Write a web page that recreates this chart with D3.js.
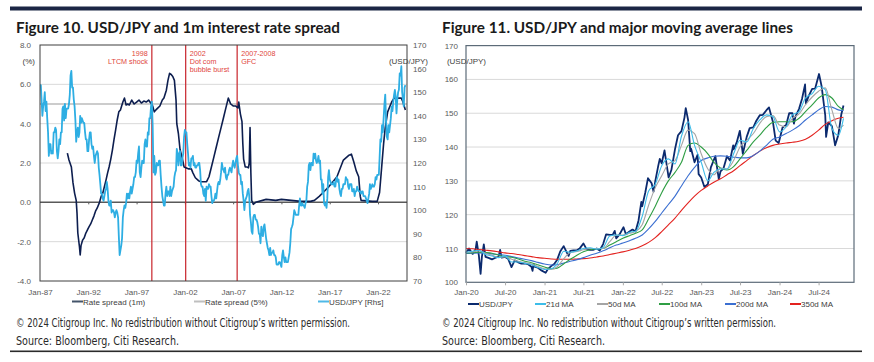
<!DOCTYPE html>
<meta charset="utf-8">
<script src="https://d3js.org/d3.v7.min.js"></script>
<style>
  body { margin: 0; background: #fff; }
  svg text { font-family: "Liberation Sans", Arial, sans-serif; }
</style>
<div id="chart"></div>
<script>
// ---------- data: Figure 10 ----------
// USD/JPY month-end, one value per month from Jan-87
const jpyFirstMonth = "1987-01";
const jpyMonthly = [
  153,153,147,140,144,146,150,142,146,139,133,123,
  128,128,124,125,124,133,133,135,134,125,122,125,
  130,128,133,133,143,144,138,145,139,143,143,143,
  145,149,157,159,152,152,147,144,138,129,133,135,
  131,133,140,137,139,138,137,137,133,130,130,125,
  125,130,133,133,128,126,127,123,120,123,124,125,
  124,118,115,111,107,107,105,104,106,108,109,112,
  109,104,102,102,104,99,100,100,99,97,99,100,
  99,97,89,81,83,85,88,97,100,102,101,103,
  107,105,107,105,108,110,107,109,111,114,114,116,
  121,120,124,127,116,114,118,121,120,120,128,130,
  127,127,133,132,139,139,144,146,136,116,123,115,
  116,120,119,119,121,121,115,110,106,104,102,102,
  107,110,106,108,108,106,110,106,108,109,110,114,
  116,117,126,124,119,124,125,119,119,122,124,131,
  134,133,133,128,124,119,120,118,122,122,123,119,
  120,118,118,119,119,120,120,117,111,110,110,107,
  106,109,104,110,109,109,111,110,110,106,103,104,
  104,105,107,105,108,111,112,111,113,116,120,118,
  117,116,118,114,113,115,115,117,118,117,116,119,
  121,119,118,120,122,123,119,116,115,115,111,112,
  107,104,100,104,105,106,108,109,106,98,95,91,
  90,97,98,98,96,96,95,93,90,90,86,93,
  90,89,93,94,91,88,86,84,83,81,84,81,
  82,82,83,81,81,80,77,77,77,78,78,77,
  76,81,83,80,78,80,78,78,78,80,82,86,
  92,93,94,97,100,99,98,98,98,98,102,105,
  102,102,103,102,102,101,103,104,110,112,119,120,
  117,120,120,119,124,122,124,121,120,121,123,120,
  121,113,113,107,111,103,102,103,101,105,114,117,
  113,112,111,111,111,112,110,110,113,114,112,113,
  109,107,106,109,109,111,111,111,114,113,113,110,
  109,111,111,111,108,108,109,106,108,108,110,109,
  108,108,108,107,108,108,106,106,106,105,104,103,
  105,107,111,109,110,111,110,110,111,114,113,115,
  115,115,122,130,129,136,133,139,145,149,138,131,
  130,136,133,136,139,144,142,146,149,151,148,141,
  147,150,151,158,157,161,150,147,144,152,153
];

// Rate spread (1m), %
const spreadMonths = [
  "1989-11","1990-01","1990-04","1990-06","1990-08","1990-10","1990-11","1990-12",
  "1991-02","1991-03","1991-04","1991-06","1991-08","1991-10","1991-12",
  "1992-02","1992-04","1992-06","1992-08","1992-10","1992-12",
  "1993-03","1993-05","1993-07","1993-09","1993-11",
  "1994-01","1994-03","1994-05","1994-07","1994-09","1994-11",
  "1995-01","1995-03","1995-05","1995-08","1995-10","1995-12",
  "1996-02","1996-04","1996-07","1996-10","1997-01","1997-04","1997-07","1997-10",
  "1998-01","1998-04","1998-07","1998-09","1998-11",
  "1999-01","1999-03","1999-06","1999-09","1999-11",
  "2000-02","2000-04","2000-06","2000-08","2000-10","2000-12",
  "2001-02","2001-03","2001-05","2001-07","2001-10","2001-12",
  "2002-03","2002-06","2002-09","2002-11","2003-02","2003-06","2003-09",
  "2004-01","2004-04","2004-07","2004-10","2005-01","2005-04","2005-07","2005-10",
  "2006-01","2006-04","2006-07","2006-10","2007-01","2007-04","2007-07","2007-08",
  "2007-10","2007-12","2008-01","2008-02","2008-04","2008-06","2008-08","2008-09",
  "2008-10","2008-11","2008-12","2009-02","2009-05","2010-06","2011-06","2012-01",
  "2013-01","2014-01","2015-01","2015-06","2015-12","2016-06","2016-12","2017-06",
  "2017-10","2018-06","2019-01","2019-04","2019-07","2019-10","2020-01","2020-03",
  "2020-04","2021-06","2021-12","2022-03","2022-05","2022-08","2022-10","2023-01",
  "2023-06","2023-09","2024-01","2024-06","2024-08","2024-11"
];
const spread1m = [
  2.5,2.15,1.8,1.0,0.47,0.1,-0.55,-1.56,
  -2.26,-2.68,-2.2,-1.92,-1.8,-1.56,-1.4,
  -1.24,-1.1,-0.9,-0.7,-0.45,-0.3,
  0.0,0.3,0.46,0.8,1.13,
  1.5,1.81,2.2,2.66,3.2,3.68,
  4.2,4.6,4.7,5.1,5.3,4.95,
  5.0,4.95,5.2,5.0,5.1,5.2,5.05,5.15,
  5.1,5.2,5.03,4.9,4.6,
  4.7,4.78,4.9,5.2,5.3,
  5.7,6.2,6.56,6.5,6.4,6.2,
  5.2,4.0,3.5,2.7,2.2,1.8,
  1.75,1.7,1.7,1.5,1.25,1.1,1.05,
  1.05,1.05,1.3,1.8,2.3,2.8,3.3,3.8,
  4.3,4.8,5.3,5.0,4.9,4.9,4.8,5.1,
  4.5,4.1,3.0,2.2,1.8,1.8,1.75,2.0,
  3.8,1.5,0.1,-0.1,0.0,0.15,0.1,0.15,
  0.1,0.05,0.05,0.1,0.3,0.55,0.8,1.1,
  1.3,2.15,2.4,2.45,2.05,1.6,1.3,0.3,
  0.1,0.05,0.05,0.5,1.5,3.0,3.8,4.6,
  5.1,5.3,5.3,5.3,5.1,4.7
];
const spread5pct = [5, 5];
const spread5Months = ["1987-01", "2025-01"];

const crisisDates = ["1998-08", "2002-02", "2007-06"];
const crisisLabels = [["1998", "LTCM shock"], ["2002", "Dot com", "bubble burst"], ["2007-2008", "GFC"]];

const leftYTicks = [-4, -2, 0, 2, 4, 6, 8];
const leftRTicks = [70, 80, 90, 100, 110, 120, 130, 140, 150, 160, 170];
const leftXTicks = ["1987", "1992", "1997", "2002", "2007", "2012", "2017", "2022"];
const leftLegend = ["Rate spread (1m)", "Rate spread (5%)", "USD/JPY [Rhs]"];

// ---------- data: Figure 11 ----------
const pxDates = [
  "2020-01-01","2020-01-15","2020-02-01","2020-02-15","2020-02-20","2020-03-01","2020-03-09","2020-03-15","2020-03-24",
  "2020-04-01","2020-04-15","2020-05-01","2020-05-15","2020-06-01","2020-06-08","2020-06-15","2020-07-01","2020-07-15",
  "2020-07-31","2020-08-15","2020-09-01","2020-09-15","2020-10-01","2020-10-15","2020-11-01","2020-11-06","2020-11-11",
  "2020-11-15","2020-12-01","2020-12-15",
  "2021-01-06","2021-01-15","2021-02-01","2021-02-15","2021-03-01","2021-03-15","2021-03-31","2021-04-15","2021-04-23",
  "2021-05-01","2021-05-15","2021-06-01","2021-06-15","2021-07-01","2021-07-15","2021-08-01","2021-08-15","2021-09-01",
  "2021-09-15","2021-10-01","2021-10-15","2021-11-01","2021-11-15","2021-11-24","2021-12-01","2021-12-15",
  "2022-01-04","2022-01-15","2022-02-01","2022-02-15","2022-03-01","2022-03-15","2022-03-28","2022-04-01","2022-04-15",
  "2022-04-28","2022-05-15","2022-05-24","2022-06-01","2022-06-15","2022-06-22","2022-07-01","2022-07-14","2022-08-02",
  "2022-08-15","2022-09-01","2022-09-15","2022-10-01","2022-10-15","2022-10-21","2022-11-01","2022-11-11","2022-11-15",
  "2022-12-01","2022-12-15","2022-12-20",
  "2023-01-01","2023-01-16","2023-02-01","2023-02-15","2023-03-01","2023-03-08","2023-03-24","2023-04-01","2023-04-15",
  "2023-05-01","2023-05-15","2023-05-30","2023-06-01","2023-06-15","2023-06-30","2023-07-14","2023-08-01","2023-08-15",
  "2023-09-01","2023-09-15","2023-10-01","2023-10-15","2023-11-01","2023-11-13","2023-12-01","2023-12-14","2023-12-28",
  "2024-01-15","2024-02-01","2024-02-15","2024-03-01","2024-03-08","2024-03-15","2024-04-01","2024-04-15","2024-04-29",
  "2024-05-03","2024-05-15","2024-06-01","2024-06-15","2024-07-03","2024-07-15","2024-08-01","2024-08-05","2024-08-15",
  "2024-09-01","2024-09-16","2024-10-01","2024-10-15","2024-10-25"
];
const pxUsdJpy = [
  108.7,110.0,108.4,109.8,112.0,107.9,102.5,107.5,111.2,
  107.5,107.2,106.8,107.2,107.6,109.6,107.3,107.5,107.0,
  104.5,106.5,105.9,105.5,105.6,105.4,104.6,103.4,105.4,
  104.6,104.3,103.6,
  102.8,103.8,104.8,105.4,106.7,109.1,110.7,108.8,107.8,
  109.3,109.4,109.5,110.1,111.5,109.9,109.6,109.6,110.0,
  109.4,111.3,114.2,114.0,114.1,115.2,113.0,114.0,
  116.3,114.2,115.0,115.6,115.0,118.3,123.8,122.5,126.4,
  130.8,129.3,126.8,129.9,134.5,136.5,135.2,139.0,131.0,
  133.2,139.4,143.5,144.7,148.7,151.5,148.0,138.8,139.5,
  135.5,137.7,132.0,
  131.0,128.2,129.0,134.0,136.2,137.3,130.5,132.8,133.7,
  137.3,136.0,140.5,139.3,141.3,144.8,138.0,143.0,145.6,
  145.8,147.8,149.4,149.5,150.9,151.7,147.5,141.9,141.2,
  145.8,146.5,150.0,150.0,146.9,149.0,151.3,154.3,158.5,
  152.9,155.0,157.2,157.3,161.6,158.0,149.4,143.0,147.3,
  146.2,140.5,143.6,149.7,152.3
];

// moving averages, read monthly
const maDates = [
  "2020-01","2020-02","2020-03","2020-04","2020-05","2020-06","2020-07","2020-08","2020-09","2020-10","2020-11","2020-12",
  "2021-01","2021-02","2021-03","2021-04","2021-05","2021-06","2021-07","2021-08","2021-09","2021-10","2021-11","2021-12",
  "2022-01","2022-02","2022-03","2022-04","2022-05","2022-06","2022-07","2022-08","2022-09","2022-10","2022-11","2022-12",
  "2023-01","2023-02","2023-03","2023-04","2023-05","2023-06","2023-07","2023-08","2023-09","2023-10","2023-11","2023-12",
  "2024-01","2024-02","2024-03","2024-04","2024-05","2024-06","2024-07","2024-08","2024-09","2024-10","2024-10-25"
];
const ma21 = [
  108.9,109.2,109.5,108.2,107.8,107.3,107.8,106.0,106.0,105.6,105.2,104.4,
  103.8,104.0,105.5,109.2,108.9,109.3,110.0,110.2,109.8,110.3,113.7,114.0,
  113.8,114.8,115.1,119.5,127.0,129.0,134.5,136.5,135.0,143.2,147.5,140.5,
  135.5,130.0,132.5,133.5,133.5,138.0,142.0,141.5,145.5,148.0,149.5,149.0,
  144.5,146.0,149.5,150.5,154.5,155.8,158.0,157.0,145.5,143.5,148.5
];
const ma50 = [
  108.9,109.0,109.3,108.6,108.0,107.4,107.5,106.8,106.2,105.8,105.4,104.7,
  104.0,103.8,104.6,107.0,108.8,109.1,109.6,110.0,110.0,110.0,112.0,113.9,
  114.0,114.5,115.0,117.0,122.8,128.0,131.5,135.0,136.0,140.5,145.0,144.0,
  138.0,133.5,131.8,133.8,133.5,136.0,140.0,142.0,144.0,147.0,149.0,149.3,
  146.5,146.0,148.5,149.8,152.5,154.8,156.5,157.5,151.0,145.5,146.5
];
const ma100 = [
  108.7,108.7,108.9,108.8,108.6,108.0,107.6,107.4,106.9,106.2,105.8,105.2,
  104.5,104.0,104.2,105.5,106.8,108.0,109.0,109.6,109.9,110.0,111.0,112.0,
  113.0,113.8,114.5,115.5,118.8,122.5,126.5,130.0,132.5,135.5,140.5,141.2,
  140.0,138.0,135.5,133.8,133.2,134.2,136.5,139.0,141.5,143.5,145.8,147.3,
  147.5,147.5,147.5,148.5,150.5,152.5,154.5,155.5,154.5,152.0,151.0
];
const ma200 = [
  108.5,108.6,108.7,108.6,108.4,108.2,108.0,107.6,107.2,106.8,106.4,105.9,
  105.4,105.1,105.2,105.7,106.2,106.7,107.3,108.0,108.6,109.3,110.2,111.0,
  111.6,112.3,113.0,114.0,115.8,118.0,120.5,123.0,125.5,128.5,131.5,134.0,
  136.0,136.8,137.3,137.4,137.3,137.0,136.8,136.8,137.5,138.8,140.5,142.3,
  143.0,144.0,145.0,146.3,148.0,149.5,151.0,152.0,151.8,151.0,150.8
];
const ma350 = [
  110.0,109.9,109.7,109.5,109.3,109.0,108.7,108.5,108.2,107.9,107.6,107.3,
  107.1,106.9,106.8,106.8,106.8,106.9,107.0,107.2,107.5,107.8,108.2,108.6,
  109.0,109.5,110.0,110.8,111.8,113.2,115.0,117.0,119.0,121.3,123.5,125.5,
  127.2,128.5,129.6,130.6,131.8,133.0,134.5,136.0,137.5,138.8,139.8,140.5,
  140.9,141.2,141.4,141.7,142.3,143.5,145.0,146.7,147.8,148.5,148.8
];

const rightYTicks = [100, 110, 120, 130, 140, 150, 160, 170];
const rightXTicks = ["2020-01","2020-07","2021-01","2021-07","2022-01","2022-07","2023-01","2023-07","2024-01","2024-07"];

// ---------- drawing ----------
const parseM = d3.timeParse("%Y-%m");
const parseD = d3.timeParse("%Y-%m-%d");
const parseAny = s => s.length > 7 ? parseD(s) : parseM(s);
const fmtX = d3.timeFormat("%b-%y");

const svg = d3.select("#chart").append("svg")
  .attr("width", 874).attr("height", 362);

// rules top / bottom
svg.append("rect").attr("x", 10).attr("y", 6.5).attr("width", 852).attr("height", 4).attr("fill", "#1b2645");
svg.append("rect").attr("x", 10).attr("y", 350.5).attr("width", 852).attr("height", 1.6).attr("fill", "#2b2b2b");

function title(x, txt, w) {
  svg.append("text").attr("x", x).attr("y", 33)
    .style("font-family", "Lato, 'Open Sans', sans-serif")
    .attr("font-weight", 700).attr("font-size", 14.5).attr("fill", "#1b1b1b")
    .attr("textLength", w).attr("lengthAdjust", "spacingAndGlyphs")
    .text(txt);
}
title(16, "Figure 10. USD/JPY and 1m interest rate spread", 324);
title(442, "Figure 11. USD/JPY and major moving average lines", 351);

function footer(x) {
  svg.append("text").attr("x", x).attr("y", 327)
    .style("font-family", "'Liberation Sans Narrow', 'DejaVu Sans Condensed', 'Roboto', sans-serif")
    .attr("font-size", 11.5).attr("fill", "#2a2a2a")
    .attr("textLength", 334).attr("lengthAdjust", "spacingAndGlyphs")
    .text("\u00a9 2024 Citigroup Inc. No redistribution without Citigroup\u2019s written permission.");
  svg.append("text").attr("x", x).attr("y", 345)
    .style("font-family", "'Liberation Sans Narrow', 'DejaVu Sans Condensed', 'Roboto', sans-serif")
    .attr("font-size", 12.5).attr("fill", "#2a2a2a")
    .attr("textLength", 163).attr("lengthAdjust", "spacingAndGlyphs")
    .text("Source: Bloomberg, Citi Research.");
}
footer(16);
footer(442);

// ===== Figure 10 =====
const L = {x0: 40, x1: 407, y0: 45, y1: 281};
const xL = d3.scaleTime().domain([new Date(1987, 0, 1), new Date(2025, 0, 1)]).range([L.x0, L.x1]);
const yL = d3.scaleLinear().domain([-4, 8]).range([L.y1, L.y0]);
const yLR = d3.scaleLinear().domain([70, 170]).range([L.y1, L.y0]);

const g1 = svg.append("g");

// gridlines
g1.selectAll("line.grid").data(leftYTicks.filter(d => d !== 0 && d !== 8 && d !== -4))
  .join("line").attr("class", "grid")
  .attr("x1", L.x0).attr("x2", L.x1)
  .attr("y1", d => yL(d)).attr("y2", d => yL(d))
  .attr("stroke", "#d9d9d9").attr("stroke-width", 1);

// Rate spread (5%)
g1.append("path")
  .datum(spread5Months.map((m, i) => ({d: parseM(m), v: spread5pct[i]})))
  .attr("d", d3.line().x(p => xL(p.d)).y(p => yL(p.v)))
  .attr("fill", "none").attr("stroke", "#9a9a9a").attr("stroke-width", 1.2);

// zero line + ticks
g1.append("line").attr("x1", L.x0).attr("x2", L.x1).attr("y1", yL(0)).attr("y2", yL(0))
  .attr("stroke", "#595959").attr("stroke-width", 1.5);
g1.append("g").attr("transform", `translate(0,${yL(0)})`)
  .call(d3.axisBottom(xL).tickValues(leftXTicks.slice(1).map(y => new Date(+y, 0, 1))).tickSize(2).tickFormat(""))
  .call(a => a.select(".domain").remove())
  .call(a => a.selectAll("line").attr("stroke", "#595959"));

// crisis lines
g1.selectAll("line.crisis").data(crisisDates).join("line").attr("class", "crisis")
  .attr("x1", d => xL(parseM(d))).attr("x2", d => xL(parseM(d)))
  .attr("y1", L.y0).attr("y2", L.y1)
  .attr("stroke", "#c8242b").attr("stroke-width", 1.2);

// rate spread 1m
const spreadData = spreadMonths.map((m, i) => ({d: parseM(m), v: spread1m[i]}));
g1.append("path").datum(spreadData)
  .attr("d", d3.line().x(p => xL(p.d)).y(p => yL(p.v)))
  .attr("fill", "none").attr("stroke", "#0d1e4f").attr("stroke-width", 1.6).attr("stroke-linejoin", "round");

// USD/JPY
const start = parseM(jpyFirstMonth);
const jpyData = jpyMonthly.map((v, i) => ({d: d3.timeMonth.offset(start, i), v: v}));
g1.append("path").datum(jpyData)
  .attr("d", d3.line().x(p => xL(p.d)).y(p => yLR(p.v)))
  .attr("fill", "none").attr("stroke", "#2eaee3").attr("stroke-width", 1.8).attr("stroke-linejoin", "round");

// frame
g1.append("rect").attr("x", L.x0).attr("y", L.y0).attr("width", L.x1 - L.x0).attr("height", L.y1 - L.y0)
  .attr("fill", "none").attr("stroke", "#3f3f3f").attr("stroke-width", 1);

// crisis labels
crisisLabels.forEach((lines, k) => {
  const x = xL(parseM(crisisDates[k]));
  const right = k === 0;
  lines.forEach((t, j) => {
    g1.append("text").attr("x", right ? x - 4 : x + 4).attr("y", 56 + j * 8)
      .attr("text-anchor", right ? "end" : "start")
      .attr("font-size", 7.2).attr("fill", "#e0453c").text(t);
  });
});

// axes labels
g1.append("g").attr("transform", `translate(${L.x0 - 9},0)`)
  .call(d3.axisLeft(yL).tickValues(leftYTicks).tickSize(0).tickFormat(d => d.toFixed(1)))
  .call(a => a.select(".domain").remove())
  .call(a => a.selectAll("text").attr("font-size", 8).attr("fill", "#595959").attr("x", 0));
g1.append("g").attr("transform", `translate(${L.x1 + 6},0)`)
  .call(d3.axisRight(yLR).tickValues(leftRTicks).tickSize(0))
  .call(a => a.select(".domain").remove())
  .call(a => a.selectAll("text").attr("font-size", 8).attr("fill", "#595959").attr("x", 0));
g1.append("g").attr("transform", `translate(0,${L.y1 + 6})`)
  .call(d3.axisBottom(xL).tickValues(leftXTicks.map(y => new Date(+y, 0, 1))).tickSize(0).tickFormat(fmtX))
  .call(a => a.select(".domain").remove())
  .call(a => a.selectAll("text").attr("font-size", 8).attr("fill", "#595959").attr("dy", "0.6em"));

g1.append("text").attr("x", 35).attr("y", 64).attr("text-anchor", "end")
  .attr("font-size", 8).attr("fill", "#404040").text("(%)");
g1.append("text").attr("x", L.x1 + 21).attr("y", 64).attr("text-anchor", "end")
  .attr("font-size", 8).attr("fill", "#404040").text("(USD/JPY)");

// legend
const legL = [{x: 72, c: "#44546a"}, {x: 194, c: "#bfbfbf"}, {x: 318, c: "#4fb9e6"}];
leftLegend.forEach((t, i) => {
  g1.append("line").attr("x1", legL[i].x).attr("x2", legL[i].x + 11).attr("y1", 301.5).attr("y2", 301.5)
    .attr("stroke", legL[i].c).attr("stroke-width", 2);
  g1.append("text").attr("x", legL[i].x + 11).attr("y", 304.5)
    .attr("font-size", 8).attr("fill", "#404040").text(t);
});

// ===== Figure 11 =====
const R = {x0: 466, x1: 854, y0: 45.6, y1: 282.3};
const xR = d3.scaleTime().domain([new Date(2020, 0, 1), new Date(2024, 11, 13)]).range([R.x0, R.x1]);
const yP = d3.scaleLinear().domain([100, 170]).range([R.y1, R.y0]);

const g2 = svg.append("g");
g2.selectAll("line.grid").data(rightYTicks.filter(d => d !== 100 && d !== 170))
  .join("line").attr("class", "grid")
  .attr("x1", R.x0).attr("x2", R.x1)
  .attr("y1", d => yP(d)).attr("y2", d => yP(d))
  .attr("stroke", "#d9d9d9").attr("stroke-width", 1);

const maSeries = [
  {name: "350d MA", vals: ma350, c: "#e3221f"},
  {name: "200d MA", vals: ma200, c: "#3b6fd1"},
  {name: "100d MA", vals: ma100, c: "#2f9e44"},
  {name: "50d MA", vals: ma50, c: "#a5a5a5"},
  {name: "21d MA", vals: ma21, c: "#3dbde9"}
];
const maLine = d3.line().x(p => xR(p.d)).y(p => yP(p.v)).curve(d3.curveMonotoneX);

const pxData = pxDates.map((s, i) => ({d: parseD(s), v: pxUsdJpy[i]}));
g2.append("path").datum(pxData)
  .attr("d", d3.line().x(p => xR(p.d)).y(p => yP(p.v)))
  .attr("fill", "none").attr("stroke", "#0b2a6e").attr("stroke-width", 1.8).attr("stroke-linejoin", "round");

maSeries.forEach(s => {
  g2.append("path").datum(maDates.map((m, i) => ({d: parseAny(m), v: s.vals[i]})))
    .attr("d", maLine).attr("fill", "none").attr("stroke", s.c).attr("stroke-width", 1.1);
});

g2.append("rect").attr("x", R.x0).attr("y", R.y0).attr("width", R.x1 - R.x0).attr("height", R.y1 - R.y0)
  .attr("fill", "none").attr("stroke", "#5c6b78").attr("stroke-width", 1.2);

g2.append("g").attr("transform", `translate(${R.x0 - 8},0)`)
  .call(d3.axisLeft(yP).tickValues(rightYTicks).tickSize(0))
  .call(a => a.select(".domain").remove())
  .call(a => a.selectAll("text").attr("font-size", 8).attr("fill", "#595959").attr("x", 0));
g2.append("g").attr("transform", `translate(0,${R.y1})`)
  .call(d3.axisBottom(xR).tickValues(rightXTicks.map(parseM)).tickSize(3).tickFormat(fmtX))
  .call(a => a.select(".domain").remove())
  .call(a => a.selectAll("line").attr("stroke", "#aaaaaa"))
  .call(a => a.selectAll("text").attr("font-size", 8).attr("fill", "#595959").attr("y", 7).attr("dy", "0.71em"));

g2.append("text").attr("x", R.x0 + 20).attr("y", 64).attr("text-anchor", "end")
  .attr("font-size", 8).attr("fill", "#404040").text("(USD/JPY)");

const legR = [
  {x: 468, t: "USD/JPY", c: "#0b2a6e"},
  {x: 535, t: "21d MA", c: "#3dbde9"},
  {x: 597, t: "50d MA", c: "#a5a5a5"},
  {x: 659, t: "100d MA", c: "#2f9e44"},
  {x: 725, t: "200d MA", c: "#3b6fd1"},
  {x: 790, t: "350d MA", c: "#e3221f"}
];
legR.forEach(l => {
  g2.append("line").attr("x1", l.x).attr("x2", l.x + 11).attr("y1", 304).attr("y2", 304)
    .attr("stroke", l.c).attr("stroke-width", 2);
  g2.append("text").attr("x", l.x + 11).attr("y", 307)
    .attr("font-size", 8).attr("fill", "#404040").text(l.t);
});
</script>
